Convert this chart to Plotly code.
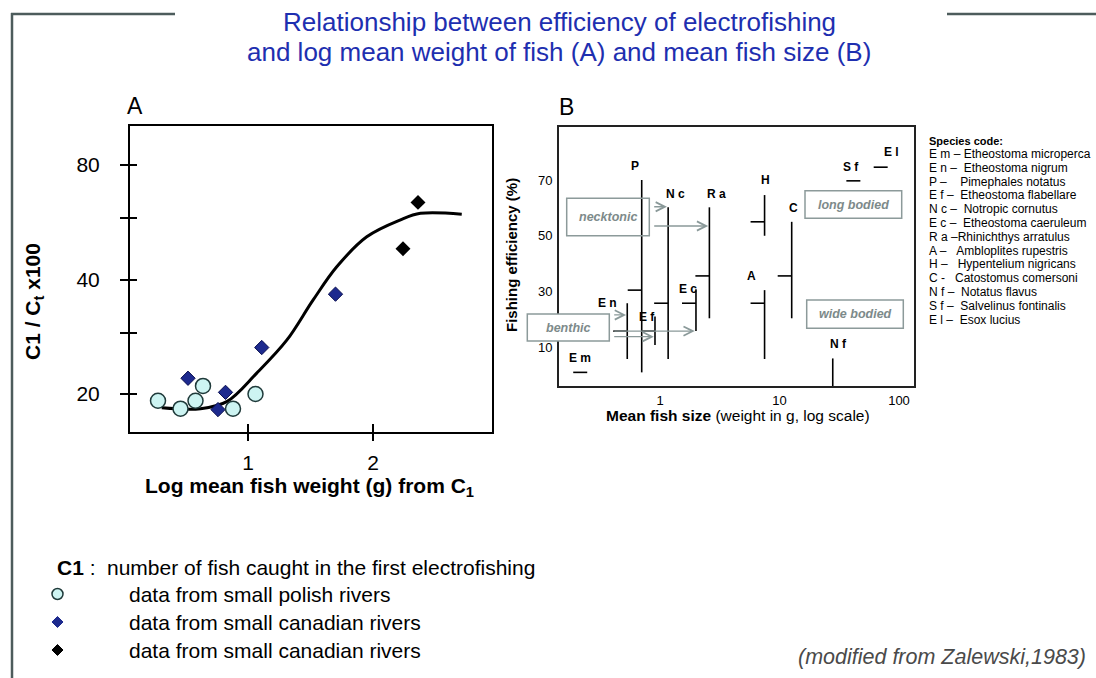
import math
import plotly.graph_objects as go

W, H = 1096, 678
FONT = "Liberation Sans, Arial, sans-serif"

# ---- panel A : C1/Ct x100 vs log mean fish weight
polish_x = [0.28, 0.46, 0.58, 0.64, 0.88, 1.06]
polish_y = [19.2, 18.3, 19.2, 21.0, 18.3, 20.0]
canada_blue_x = [0.52, 0.76, 0.82, 1.11, 1.70]
canada_blue_y = [22.0, 18.2, 20.2, 26.5, 36.6]
canada_black_x = [2.24, 2.36]
canada_black_y = [48.2, 63.8]
curve_x = [0.31, 0.62, 0.83, 1.07, 1.31, 1.52, 1.71, 1.95, 2.22, 2.38, 2.71]
curve_y = [18.4, 18.3, 19.1, 22.7, 27.7, 35.3, 43.2, 51.8, 57.4, 59.7, 59.4]
a_ytick_vals = [20, 29, 40, 58, 80]
a_ytick_text = ["20", "", "40", "", "80"]

# ---- panel B : fishing efficiency vs mean fish size
codes = ["E m", "E n", "P", "E f", "N c", "E c", "R a", "A", "H", "C", "N f", "S f", "E l"]
names = ["Etheostoma microperca", "Etheostoma nigrum", "Pimephales notatus",
         "Etheostoma flabellare", "Notropic cornutus", "Etheostoma caeruleum",
         "Rhinichthys arratulus", "Ambloplites rupestris", "Hypentelium nigricans",
         "Catostomus comersoni", "Notatus flavus", "Salvelinus fontinalis", "Esox lucius"]
size_g = [0.246, 0.532, 0.703, 0.908, 1.17, 2.0, 2.59, 7.5, 7.5, 12.65, 27.9, 47.5, 80.4]
eff_min = [1.0, 5.8, 1.0, 10.8, 5.8, 15.8, 20.4, 5.8, 50.0, 20.4, -4.0, 69.7, 74.6]
eff_max = [1.0, 25.8, 70.0, 21.0, 60.2, 30.8, 60.2, 30.5, 64.6, 55.0, 6.0, 69.7, 74.6]
eff_mean = [1.0, 15.8, 30.5, 15.8, 25.8, 25.8, 35.6, 25.8, 55.0, 35.6, None, 69.7, 74.6]

# label offsets (px) of the species codes from the top of their bar
lab_shift = [(-7, 14), (-20, 0), (-7, 14), (-8, 0), (7, 13), (-8, 0), (7, 13),
             (-13, 14), (1, 15), (2, 14), (6, 14), (-9, 14), (4, 15)]
list_pad = [" ", "  ", "    ", "  ", "  ", "  ", "", "   ", "   ", "   ", "  ", "  ", "  "]

# pixel geometry of the two panels
A_L, A_R, A_T, A_B = 130, 492, 126, 432
B_L, B_R, B_T, B_B = 559, 914, 127, 386
B_X1, B_DEC = 660, 119.5          # px of size=1 and px per decade
TICK = 10 ** (14 / B_DEC)          # mean tick ~14 px to the left


def px(x):
    return x / W


def py(y):
    return 1 - y / H


def bsize(x):
    return (x - B_X1) / B_DEC      # log10 size at pixel x


def note(x, y, text, size, color="black", xanchor="center", **kw):
    return dict(xref="paper", yref="paper", x=px(x), y=py(y), text=text, showarrow=False,
                xanchor=xanchor, yanchor="middle", font=dict(size=size, color=color), **kw)


fig = go.Figure()

# panel A
fig.add_trace(go.Scatter(x=curve_x, y=curve_y, mode="lines",
                         line=dict(color="black", width=3, shape="spline", smoothing=1.0),
                         hoverinfo="skip", showlegend=False))
fig.add_trace(go.Scatter(x=canada_blue_x, y=canada_blue_y, mode="markers",
                         marker=dict(symbol="diamond", size=11, color="#1d2a8e",
                                     line=dict(color="#0b1050", width=1)),
                         showlegend=False))
fig.add_trace(go.Scatter(x=polish_x, y=polish_y, mode="markers",
                         marker=dict(symbol="circle", size=15, color="#cdf4f2",
                                     line=dict(color="#1f3a3a", width=1.5)),
                         showlegend=False))
fig.add_trace(go.Scatter(x=canada_black_x, y=canada_black_y, mode="markers",
                         marker=dict(symbol="diamond", size=11.5, color="black"),
                         showlegend=False))

# panel B bars and mean ticks
bx, by = [], []
for s, lo, hi, m in zip(size_g, eff_min, eff_max, eff_mean):
    bx += [s, s, None]
    by += [lo, hi, None]
    if m is not None:
        bx += [s / TICK, s, None]
        by += [m, m, None]
fig.add_trace(go.Scatter(x=bx, y=by, mode="lines", xaxis="x2", yaxis="y2",
                         line=dict(color="black", width=1.6), hoverinfo="skip",
                         showlegend=False))

ann = []
for c, s, hi, (dx, dy) in zip(codes, size_g, eff_max, lab_shift):
    ann.append(dict(xref="x2", yref="y2", x=math.log10(s), y=hi, xshift=dx, yshift=dy,
                    text="<b>%s</b>" % c, showarrow=False, xanchor="center", yanchor="middle",
                    font=dict(size=12, color="black")))

# callout arrows (tail px, target species index, efficiency)
arrows = [(652.7, 4, 60.4), (652.7, 6, 53.5), (612.7, 1, 21.6), (612.7, 5, 15.8), (612.7, 3, 13.8)]
for tail, i, e in arrows:
    ann.append(dict(xref="x2", yref="y2", axref="x2", ayref="y2",
                    x=math.log10(size_g[i]) - 0.01, y=e, ax=bsize(tail), ay=e,
                    text="", showarrow=True, arrowhead=5, arrowsize=1.4,
                    arrowwidth=1.3, arrowcolor="#8a9999", standoff=0))

shapes = []
boxes = [("necktonic", 566.7, 198.3, 649.3, 235.7, "rgba(0,0,0,0)"),
         ("benthic", 527.3, 314, 609.3, 341, "white"),
         ("long bodied", 805, 190.7, 901.7, 218.3, "rgba(0,0,0,0)"),
         ("wide bodied", 806.7, 300, 903.3, 328.3, "rgba(0,0,0,0)")]
for txt, x0, y0, x1, y1, fill in boxes:
    shapes.append(dict(type="rect", xref="paper", yref="paper", x0=px(x0), x1=px(x1),
                       y0=py(y1), y1=py(y0), line=dict(color="#8c9a9a", width=1.5),
                       fillcolor=fill, layer="above"))
    ann.append(note((x0 + x1) / 2, (y0 + y1) / 2, "<b><i>%s</i></b>" % txt, 12.5, "#7d8a8a"))

# outer frame
for x0, y0, x1, y1 in [(11, 14, 175, 14), (947, 14, 1096, 14), (12, 13, 12, 678)]:
    shapes.append(dict(type="line", xref="paper", yref="paper", x0=px(x0), x1=px(x1),
                       y0=py(y0), y1=py(y1), line=dict(color="#4d5c5c", width=2.5)))

# titles
ann.append(note(559, 22, "Relationship between efficiency of electrofishing", 26, "#1e2fb0"))
ann.append(note(559, 52, "and log mean weight of fish (A) and mean fish size (B)", 26, "#1e2fb0"))
ann.append(note(135, 106, "A", 23))
ann.append(note(566, 107, "B", 23))

# axis titles
ann.append(note(34, 302, "<b>C1 / C<sub>t</sub> x100</b>", 21, textangle=-90))
ann.append(note(309, 487, "<b>Log mean fish weight (g) from C<sub>1</sub></b>", 21))
ann.append(note(511, 255, "<b>Fishing efficiency (%)</b>", 15, textangle=-90))
ann.append(note(738, 415, "<b>Mean fish size</b> (weight in g, log scale)", 15.5))

# species code list
ann.append(note(927, 141, "<b>Species code:</b>", 11, xanchor="left"))
for k, (c, n, pad) in enumerate(zip(codes, names, list_pad)):
    dash = "-" if c == "C" else "\u2013"
    ann.append(note(927, 154 + 13.8 * k,
                    "%s %s%s%s" % (c, dash, pad.replace(" ", "\u00a0"), n), 12, xanchor="left"))

# bottom key
ann.append(note(55, 567, "<b>C1</b> :", 21, xanchor="left"))
ann.append(note(105, 567, "number of fish caught in the first electrofishing", 21, xanchor="left"))
key_text = ["data from small polish rivers", "data from small canadian rivers",
            "data from small canadian rivers"]
key_y = [594, 622, 650]
for t, yy in zip(key_text, key_y):
    ann.append(note(127, yy, t, 21, xanchor="left"))
shapes.append(dict(type="circle", xref="paper", yref="paper", x0=px(52), x1=px(63),
                   y0=py(599.5), y1=py(588.5), fillcolor="#cdf4f2",
                   line=dict(color="#1f3a3a", width=1.5)))
for yy, col in zip(key_y[1:], ["#1d2a8e", "black"]):
    path = "M %f %f L %f %f L %f %f L %f %f Z" % (
        px(57.5), py(yy - 5.5), px(63), py(yy), px(57.5), py(yy + 5.5), px(52), py(yy))
    shapes.append(dict(type="path", xref="paper", yref="paper", path=path,
                       fillcolor=col, line=dict(color=col, width=1)))

ann.append(note(1088, 657, "<i>(modified from Zalewski,1983)</i>", 21.5, "#4a4a4a",
                xanchor="right"))

a_ylog = [math.log10(20) + (394 - A_B) / 114.5 * math.log10(2),
          math.log10(20) + (394 - A_T) / 114.5 * math.log10(2)]
a_xr = [1 + (A_L - 248) / 125, 1 + (A_R - 248) / 125]
b_xr = [bsize(B_L), bsize(B_R)]
b_yr = [70 - (B_B - 180) / 2.788, 70 - (B_T - 180) / 2.788]

axA = dict(showgrid=False, zeroline=False, showline=True, linecolor="black", linewidth=2,
           mirror=True, tickcolor="black", tickwidth=2)
fig.update_layout(
    width=W, height=H, margin=dict(l=0, r=0, t=0, b=0),
    paper_bgcolor="white", plot_bgcolor="rgba(0,0,0,0)",
    font=dict(family=FONT, color="black"),
    xaxis=dict(axA, domain=[px(A_L), px(A_R)], range=a_xr, anchor="y",
               tickvals=[1, 2], ticks="outside", ticklen=7, ticklabelstandoff=4,
               tickfont=dict(size=21)),
    yaxis=dict(axA, domain=[py(A_B), py(A_T)], type="log", range=a_ylog, anchor="x",
               tickvals=a_ytick_vals, ticktext=a_ytick_text, ticks="outside", ticklen=8,
               ticklabelstandoff=16, tickfont=dict(size=21)),
    xaxis3=dict(showgrid=False, zeroline=False, overlaying="x", anchor="y", range=a_xr,
                tickvals=[1, 2], ticks="inside", ticklen=8, tickwidth=2, tickcolor="black",
                showticklabels=False, side="bottom"),
    yaxis3=dict(showgrid=False, zeroline=False, overlaying="y", anchor="x", type="log",
                range=a_ylog, tickvals=a_ytick_vals, ticks="inside", ticklen=7,
                tickwidth=2, tickcolor="black", showticklabels=False, side="left"),
    xaxis2=dict(showgrid=False, zeroline=False, showline=True, linecolor="#222", linewidth=2,
                mirror=True, type="log", domain=[px(B_L), px(B_R)], range=b_xr, anchor="y2",
                tickvals=[1, 10, 100], ticks="", ticklabelstandoff=1, tickfont=dict(size=13)),
    yaxis2=dict(showgrid=False, zeroline=False, showline=True, linecolor="#222", linewidth=2,
                mirror=True, domain=[py(B_B), py(B_T)], range=b_yr, anchor="x2",
                tickvals=[10, 30, 50, 70], ticks="", ticklabelstandoff=2, tickfont=dict(size=13)),
    annotations=ann, shapes=shapes,
)
fig.add_trace(go.Scatter(x=[None], y=[None], xaxis="x3", yaxis="y3", showlegend=False))

fig.write_html("out.html", config={"displayModeBar": False},
               post_script="document.body.style.margin='0px';")
